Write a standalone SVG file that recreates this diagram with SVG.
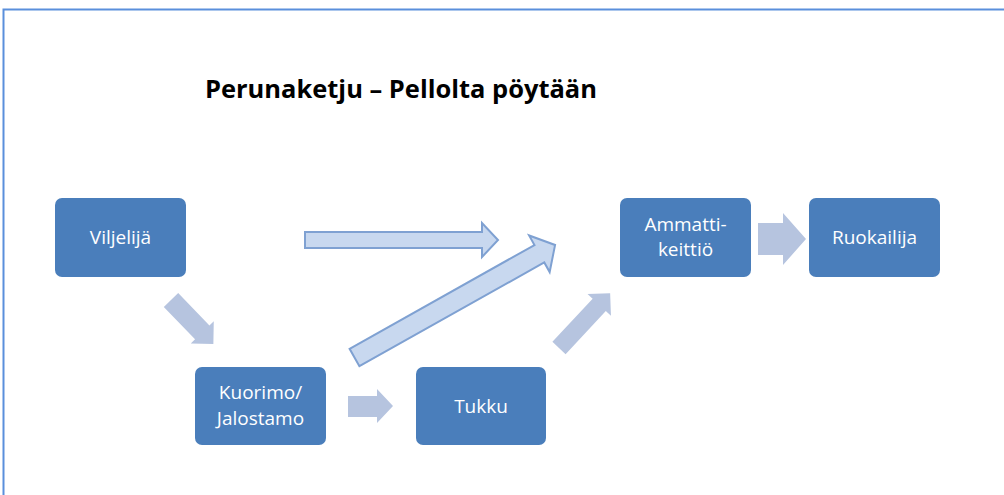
<svg xmlns="http://www.w3.org/2000/svg" width="1004" height="495" viewBox="0 0 1004 495">
  <style>
    .node rect { fill: #4a7ebb; }
    .node text { fill: #ffffff; font-family: "Open Sans", "Liberation Sans", sans-serif; font-size: 19px; text-anchor: middle; }
    .title { fill: #000000; font-family: "Open Sans", "Liberation Sans", sans-serif; font-size: 25px; font-weight: bold; }
    .solid { fill: #b6c4df; }
    .outline { fill: #c8d8ef; stroke: #7fa1d2; stroke-width: 2; stroke-linejoin: miter; }
    .frame { stroke: #5a8fdc; stroke-width: 2; fill: none; }
  </style>

  <rect width="1004" height="495" fill="#ffffff"/>
  <!-- page frame: top and left edges -->
  <path class="frame" d="M3.5,495 L3.5,9.5 L1004,9.5"/>

  <text class="title" x="205" y="98" textLength="392" lengthAdjust="spacingAndGlyphs">Perunaketju – Pellolta pöytään</text>

  <g id="connectors">
    <!-- Viljelijä -> Kuorimo/Jalostamo -->
    <polygon class="solid" transform="translate(171,300) rotate(46)" points="0,-10 45,-10 45,-16 61,0 45,16 45,10 0,10"/>
    <!-- Kuorimo/Jalostamo -> Tukku -->
    <polygon class="solid" points="348,396 377,396 377,389 393,406 377,423 377,417 348,417"/>
    <!-- Tukku -> Ammattikeittiö -->
    <polygon class="solid" transform="translate(559,348) rotate(-47)" points="0,-9 59,-9 59,-16 75,0 59,16 59,9 0,9"/>
    <!-- Ammattikeittiö -> Ruokailija -->
    <polygon class="solid" points="758,223 783,223 783,213 806,239 783,265 783,255 758,255"/>
    <!-- Viljelijä -> Ammattikeittiö (direct) -->
    <polygon class="outline" points="305,232 482,232 482,223 498,240 482,257 482,248 305,248"/>
    <!-- Kuorimo/Jalostamo -> Ammattikeittiö -->
    <polygon class="outline" transform="translate(354.5,357.5) rotate(-29.3)" points="0,-10 212,-10 212,-21 230,0 212,21 212,10 0,10"/>
  </g>

  <g id="viljelija" class="node">
    <rect x="55" y="198" width="131" height="79" rx="7"/>
    <text x="120.5" y="244">Viljelijä</text>
  </g>

  <g id="kuorimo" class="node">
    <rect x="195" y="367" width="131" height="78" rx="7"/>
    <text x="260.5" y="399">Kuorimo/</text>
    <text x="260.5" y="425">Jalostamo</text>
  </g>

  <g id="tukku" class="node">
    <rect x="416" y="367" width="130" height="78" rx="7"/>
    <text x="481" y="413">Tukku</text>
  </g>

  <g id="ammattikeittio" class="node">
    <rect x="620" y="198" width="131" height="79" rx="7"/>
    <text x="685.5" y="231">Ammatti-</text>
    <text x="685.5" y="256">keittiö</text>
  </g>

  <g id="ruokailija" class="node">
    <rect x="809" y="198" width="131" height="79" rx="7"/>
    <text x="874.5" y="244">Ruokailija</text>
  </g>
</svg>
